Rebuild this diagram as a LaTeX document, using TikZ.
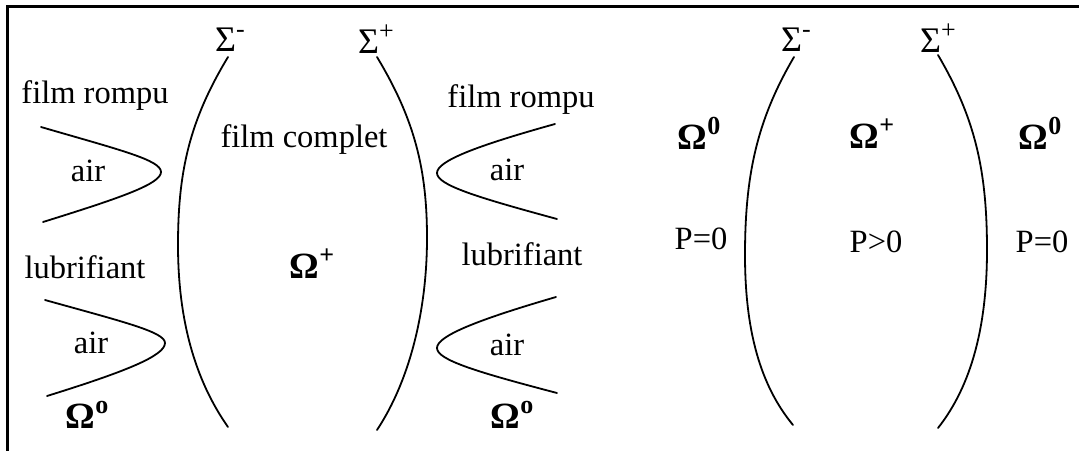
\documentclass[tikz,border=0pt]{standalone}
\usepackage{fontspec}
\setmainfont{Liberation Serif}
\newcommand{\myup}[1]{\raisebox{0.4em}{\fontsize{26}{26}\selectfont #1}}
\begin{document}
\begin{tikzpicture}[x=1pt,y=-1pt,
  lbl/.style={inner sep=0pt, font=\fontsize{32.5}{38}\selectfont},
  sig/.style={inner sep=0pt, font=\fontsize{36}{40}\selectfont},
  omg/.style={inner sep=0pt, font=\fontsize{37}{40}\selectfont\bfseries},
  curve/.style={line width=1.8pt, line cap=round},
  frame/.style={line width=3pt}]
\useasboundingbox (0,0) rectangle (1079,450);
\draw[frame] (7.5,452) -- (7.5,6.5) -- (1081,6.5);

% ---- left panel: interfaces
\draw[curve] (228,57) .. controls (190,120) and (178,170) .. (178,245)
  .. controls (178,320) and (195,380) .. (228,427);
\draw[curve] (377,57) .. controls (415,120) and (427,170) .. (427,238)
  .. controls (427,310) and (410,380) .. (377,430);

% air pockets left
\draw[curve] (41,127) .. controls (120,150) and (161,160) .. (161,172)
  .. controls (161,184) and (120,198) .. (43,222);
\draw[curve] (45,300) .. controls (124,322) and (165,332) .. (165,343)
  .. controls (165,356) and (124,372) .. (47,396);
% air pockets right
\draw[curve] (555,124) .. controls (476,146) and (437,161) .. (437,173)
  .. controls (437,185) and (476,197) .. (557,219);
\draw[curve] (556,297) .. controls (477,320) and (437,336) .. (437,348)
  .. controls (437,360) and (477,372) .. (557,393);

% ---- right panel: interfaces
\draw[curve] (794,57) .. controls (757,120) and (745,175) .. (745,255)
  .. controls (745,330) and (760,385) .. (793,425);
\draw[curve] (938,55) .. controls (975,118) and (987,170) .. (987,250)
  .. controls (987,325) and (972,385) .. (938,428);

% ---- labels left panel
\node[sig] (sml) at (230,40) {Σ\myup{-}};
\node[sig] (spl) at (376,39) {Σ\myup{+}};
\node[lbl] (fr1) at (95,96) {film rompu};
\node[lbl] (air1) at (88,171) {air};
\node[lbl] (fc) at (304,140) {film complet};
\node[lbl] (lub1) at (85,267) {lubrifiant};
\node[lbl] (air2) at (91,343) {air};
\node[omg] (o0a) at (87,415) {Ω\myup{\bfseries o}};
\node[omg] (opa) at (312,264) {Ω\myup{+}};
\node[lbl] (fr2) at (521,100) {film rompu};
\node[lbl] (air3) at (507,170) {air};
\node[lbl] (lub2) at (522,254) {lubrifiant};
\node[lbl] (air4) at (507,345) {air};
\node[omg] (o0b) at (512,415) {Ω\myup{\bfseries o}};

% ---- labels right panel
\node[sig] (smr) at (796,40) {Σ\myup{-}};
\node[sig] (spr) at (938,38) {Σ\myup{+}};
\node[omg] (o0c) at (699,133) {Ω\myup{\bfseries 0}};
\node[omg] (opr) at (872,134) {Ω\myup{+}};
\node[omg] (o0d) at (1040,133) {Ω\myup{\bfseries 0}};
\node[lbl] (p1) at (701,239) {P=0};
\node[lbl] (p2) at (876,242) {P>0};
\node[lbl] (p3) at (1042,242) {P=0};
\end{tikzpicture}
\end{document}
